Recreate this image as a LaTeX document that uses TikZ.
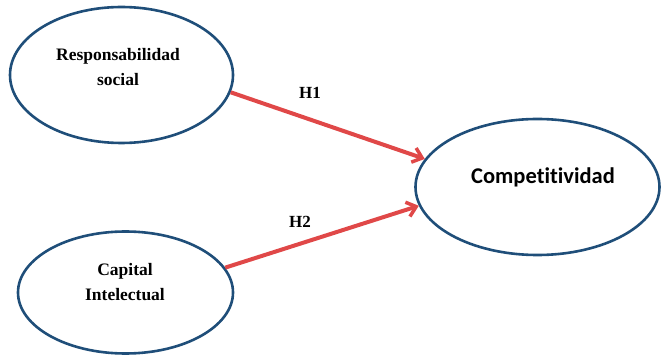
\documentclass[tikz,border=0pt]{standalone}
\usepackage{fontspec}
\setmainfont{Liberation Serif}
\newfontfamily\calib[Ligatures=NoCommon]{Carlito}
\usetikzlibrary{shapes.geometric,arrows.meta}
\definecolor{ellblue}{HTML}{1F4E79}
\definecolor{arrred}{HTML}{E04848}
\tikzset{
  construct/.style={ellipse, draw=ellblue, line width=2.6pt, inner sep=0pt},
  serlab/.style={font=\fontsize{17.5}{25}\selectfont\bfseries, align=center, inner sep=0pt},
  hyp/.style={draw=arrred, line width=4pt, -{Straight Barb[length=9pt,width=15pt,line width=3.5pt]}},
  hlab/.style={font=\fontsize{17}{20}\selectfont\bfseries, inner sep=0pt}
}
\begin{document}
\begin{tikzpicture}[x=1pt,y=-1pt]
\useasboundingbox (0,0) rectangle (661,355);
\node[construct, minimum width=223pt, minimum height=136pt] (rs) at (121.5,75) {};
\node[construct, minimum width=215pt, minimum height=122pt] (ci) at (125.5,292.5) {};
\node[construct, minimum width=244pt, minimum height=136pt] (comp) at (537.5,187) {};
\node[serlab] (rstext) at (118,67) {Responsabilidad\\social};
\node[serlab] (citext) at (125,282) {Capital\\Intelectual};
\node[font=\calib\fontsize{22.5}{25}\selectfont\bfseries, inner sep=0pt] (comptext) at (543,177) {Competitividad};
\draw[hyp] (rs.-9) -- (comp.166);
\draw[hyp] (ci.14) -- (comp.-171);
\node[hlab] (h1) at (310,93) {H1};
\node[hlab] (h2) at (300,222) {H2};
\end{tikzpicture}
\end{document}
